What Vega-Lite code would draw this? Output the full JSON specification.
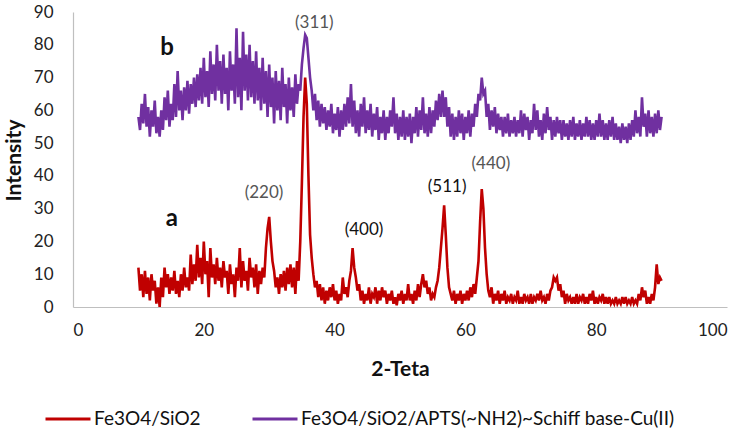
{
  "$schema": "https://vega.github.io/schema/vega-lite/v6.json",
  "width": 654,
  "height": 295,
  "autosize": {"type": "none"},
  "padding": {"left": 73, "top": 12, "right": 23, "bottom": 126},
  "background": "white",
  "config": {
    "view": {"stroke": null},
    "font": "Lato",
    "axis": {"grid": false, "ticks": false, "labelOverlap": false, "domainColor": "#bfbfbf", "domainWidth": 1.2, "labelFont": "Lato", "labelFontSize": 17, "labelColor": "#222222", "titleFont": "Lato", "titleFontSize": 21, "titleFontWeight": "bold", "titleColor": "#111111"}
  },
  "datasets": {
    "xrd": [
      {"x":10,"a":12,"b":58},{"x":10.25,"a":5,"b":54},{"x":10.5,"a":10,"b":62},{"x":10.75,"a":3,"b":56},
      {"x":11,"a":11,"b":65},{"x":11.25,"a":4,"b":55},{"x":11.5,"a":9,"b":61},{"x":11.75,"a":2,"b":52},
      {"x":12,"a":10,"b":60},{"x":12.25,"a":5,"b":55},{"x":12.5,"a":8,"b":63},{"x":12.75,"a":1,"b":53},
      {"x":13,"a":6,"b":58},{"x":13.25,"a":0,"b":52},{"x":13.5,"a":9,"b":60},{"x":13.75,"a":3,"b":54},
      {"x":14,"a":12,"b":64},{"x":14.25,"a":6,"b":57},{"x":14.5,"a":10,"b":66},{"x":14.75,"a":4,"b":55},
      {"x":15,"a":9,"b":62},{"x":15.25,"a":5,"b":57},{"x":15.5,"a":11,"b":68},{"x":15.75,"a":4,"b":58},
      {"x":16,"a":8,"b":72},{"x":16.25,"a":3,"b":60},{"x":16.5,"a":10,"b":66},{"x":16.75,"a":5,"b":57},
      {"x":17,"a":12,"b":67},{"x":17.25,"a":6,"b":60},{"x":17.5,"a":9,"b":69},{"x":17.75,"a":5,"b":59},
      {"x":18,"a":16,"b":68},{"x":18.25,"a":7,"b":62},{"x":18.5,"a":13,"b":70},{"x":18.75,"a":8,"b":61},
      {"x":19,"a":19,"b":71},{"x":19.25,"a":9,"b":63},{"x":19.5,"a":15,"b":73},{"x":19.75,"a":7,"b":62},
      {"x":20,"a":20,"b":76},{"x":20.25,"a":10,"b":64},{"x":20.5,"a":14,"b":72},{"x":20.75,"a":3,"b":61},
      {"x":21,"a":18,"b":78},{"x":21.25,"a":9,"b":65},{"x":21.5,"a":13,"b":74},{"x":21.75,"a":7,"b":63},
      {"x":22,"a":15,"b":80},{"x":22.25,"a":8,"b":66},{"x":22.5,"a":12,"b":75},{"x":22.75,"a":6,"b":62},
      {"x":23,"a":14,"b":77},{"x":23.25,"a":9,"b":65},{"x":23.5,"a":11,"b":73},{"x":23.75,"a":4,"b":60},
      {"x":24,"a":13,"b":78},{"x":24.25,"a":7,"b":66},{"x":24.5,"a":10,"b":74},{"x":24.75,"a":3,"b":62},
      {"x":25,"a":12,"b":85},{"x":25.25,"a":8,"b":64},{"x":25.5,"a":18,"b":76},{"x":25.75,"a":6,"b":60},
      {"x":26,"a":14,"b":84},{"x":26.25,"a":8,"b":66},{"x":26.5,"a":11,"b":77},{"x":26.75,"a":5,"b":63},
      {"x":27,"a":15,"b":80},{"x":27.25,"a":9,"b":64},{"x":27.5,"a":12,"b":75},{"x":27.75,"a":6,"b":62},
      {"x":28,"a":13,"b":78},{"x":28.25,"a":4,"b":63},{"x":28.5,"a":11,"b":73},{"x":28.75,"a":7,"b":60},
      {"x":29,"a":12,"b":76},{"x":29.25,"a":9,"b":62},{"x":29.5,"a":18,"b":72},{"x":29.75,"a":24,"b":58},
      {"x":30,"a":27.5,"b":74},{"x":30.25,"a":20,"b":61},{"x":30.5,"a":14,"b":70},{"x":30.75,"a":11,"b":56},
      {"x":31,"a":6,"b":72},{"x":31.25,"a":9,"b":60},{"x":31.5,"a":4,"b":69},{"x":31.75,"a":10,"b":57},
      {"x":32,"a":6,"b":73},{"x":32.25,"a":11,"b":61},{"x":32.5,"a":5,"b":68},{"x":32.75,"a":12,"b":56},
      {"x":33,"a":7,"b":70},{"x":33.25,"a":13,"b":60},{"x":33.5,"a":6,"b":67},{"x":33.75,"a":12,"b":58},
      {"x":34,"a":4,"b":71},{"x":34.25,"a":14,"b":62},{"x":34.5,"a":8,"b":68},{"x":34.75,"a":20,"b":66},
      {"x":35,"a":38,"b":74},{"x":35.25,"a":58,"b":79},{"x":35.5,"a":70,"b":83},{"x":35.75,"a":62,"b":82},
      {"x":36,"a":40,"b":76},{"x":36.25,"a":22,"b":70},{"x":36.5,"a":15,"b":66},{"x":36.75,"a":10,"b":60},
      {"x":37,"a":6,"b":65},{"x":37.25,"a":8,"b":57},{"x":37.5,"a":3,"b":63},{"x":37.75,"a":7,"b":55},
      {"x":38,"a":2,"b":62},{"x":38.25,"a":6,"b":56},{"x":38.5,"a":1,"b":61},{"x":38.75,"a":5,"b":54},
      {"x":39,"a":2,"b":60},{"x":39.25,"a":6,"b":55},{"x":39.5,"a":3,"b":62},{"x":39.75,"a":7,"b":53},
      {"x":40,"a":2,"b":59},{"x":40.25,"a":5,"b":54},{"x":40.5,"a":1,"b":61},{"x":40.75,"a":4,"b":52},
      {"x":41,"a":2,"b":60},{"x":41.25,"a":9,"b":54},{"x":41.5,"a":4,"b":62},{"x":41.75,"a":6,"b":55},
      {"x":42,"a":3,"b":64},{"x":42.25,"a":8,"b":56},{"x":42.5,"a":11,"b":68},{"x":42.75,"a":18,"b":55},
      {"x":43,"a":12,"b":63},{"x":43.25,"a":9,"b":53},{"x":43.5,"a":5,"b":60},{"x":43.75,"a":7,"b":52},
      {"x":44,"a":2,"b":62},{"x":44.25,"a":5,"b":55},{"x":44.5,"a":1,"b":64},{"x":44.75,"a":4,"b":53},
      {"x":45,"a":2,"b":60},{"x":45.25,"a":6,"b":54},{"x":45.5,"a":1,"b":62},{"x":45.75,"a":4,"b":52},
      {"x":46,"a":3,"b":59},{"x":46.25,"a":6,"b":54},{"x":46.5,"a":1,"b":61},{"x":46.75,"a":5,"b":51},
      {"x":47,"a":2,"b":58},{"x":47.25,"a":6,"b":53},{"x":47.5,"a":3,"b":60},{"x":47.75,"a":5,"b":51},
      {"x":48,"a":1,"b":58},{"x":48.25,"a":4,"b":53},{"x":48.5,"a":2,"b":60},{"x":48.75,"a":5,"b":55},
      {"x":49,"a":1,"b":64},{"x":49.25,"a":3,"b":53},{"x":49.5,"a":0.5,"b":59},{"x":49.75,"a":4,"b":51},
      {"x":50,"a":2,"b":58},{"x":50.25,"a":5,"b":52},{"x":50.5,"a":1,"b":60},{"x":50.75,"a":4,"b":51},
      {"x":51,"a":2,"b":58},{"x":51.25,"a":7,"b":52},{"x":51.5,"a":2,"b":59},{"x":51.75,"a":4,"b":50},
      {"x":52,"a":1,"b":58},{"x":52.25,"a":5,"b":53},{"x":52.5,"a":2,"b":61},{"x":52.75,"a":7,"b":52},
      {"x":53,"a":3,"b":60},{"x":53.25,"a":7,"b":54},{"x":53.5,"a":10,"b":64},{"x":53.75,"a":6,"b":53},
      {"x":54,"a":8,"b":59},{"x":54.25,"a":4,"b":52},{"x":54.5,"a":6,"b":61},{"x":54.75,"a":2,"b":53},
      {"x":55,"a":4,"b":60},{"x":55.25,"a":3,"b":55},{"x":55.5,"a":6,"b":63},{"x":55.75,"a":8,"b":57},
      {"x":56,"a":12,"b":65},{"x":56.25,"a":18,"b":58},{"x":56.5,"a":24,"b":66},{"x":56.75,"a":31,"b":58},
      {"x":57,"a":22,"b":64},{"x":57.25,"a":12,"b":55},{"x":57.5,"a":6,"b":61},{"x":57.75,"a":4,"b":52},
      {"x":58,"a":2,"b":59},{"x":58.25,"a":5,"b":51},{"x":58.5,"a":1,"b":58},{"x":58.75,"a":4,"b":52},
      {"x":59,"a":2,"b":60},{"x":59.25,"a":5,"b":53},{"x":59.5,"a":1,"b":59},{"x":59.75,"a":4,"b":51},
      {"x":60,"a":2,"b":58},{"x":60.25,"a":5,"b":53},{"x":60.5,"a":2,"b":60},{"x":60.75,"a":6,"b":52},
      {"x":61,"a":3,"b":59},{"x":61.25,"a":7,"b":55},{"x":61.5,"a":4,"b":62},{"x":61.75,"a":9,"b":58},
      {"x":62,"a":14,"b":65},{"x":62.25,"a":26,"b":63},{"x":62.5,"a":36,"b":70},{"x":62.75,"a":30,"b":65},
      {"x":63,"a":18,"b":66},{"x":63.25,"a":10,"b":58},{"x":63.5,"a":5,"b":62},{"x":63.75,"a":3,"b":54},
      {"x":64,"a":6,"b":60},{"x":64.25,"a":1,"b":55},{"x":64.5,"a":4,"b":61},{"x":64.75,"a":2,"b":53},
      {"x":65,"a":5,"b":59},{"x":65.25,"a":1,"b":54},{"x":65.5,"a":4,"b":58},{"x":65.75,"a":2,"b":52},
      {"x":66,"a":5,"b":58},{"x":66.25,"a":1,"b":53},{"x":66.5,"a":3,"b":59},{"x":66.75,"a":2,"b":52},
      {"x":67,"a":4,"b":57},{"x":67.25,"a":1,"b":53},{"x":67.5,"a":3,"b":58},{"x":67.75,"a":2,"b":52},
      {"x":68,"a":5,"b":57},{"x":68.25,"a":1,"b":53},{"x":68.5,"a":3,"b":60},{"x":68.75,"a":1,"b":52},
      {"x":69,"a":4,"b":59},{"x":69.25,"a":2,"b":54},{"x":69.5,"a":3,"b":58},{"x":69.75,"a":1,"b":51},
      {"x":70,"a":4,"b":57},{"x":70.25,"a":1,"b":53},{"x":70.5,"a":3,"b":62},{"x":70.75,"a":2,"b":54},
      {"x":71,"a":4,"b":60},{"x":71.25,"a":2,"b":52},{"x":71.5,"a":5,"b":57},{"x":71.75,"a":2,"b":51},
      {"x":72,"a":3,"b":59},{"x":72.25,"a":1,"b":53},{"x":72.5,"a":4,"b":61},{"x":72.75,"a":2,"b":54},
      {"x":73,"a":5,"b":58},{"x":73.25,"a":6,"b":51},{"x":73.5,"a":9,"b":57},{"x":73.75,"a":8,"b":52},
      {"x":74,"a":9,"b":58},{"x":74.25,"a":5,"b":53},{"x":74.5,"a":7,"b":57},{"x":74.75,"a":3,"b":51},
      {"x":75,"a":5,"b":57},{"x":75.25,"a":1,"b":52},{"x":75.5,"a":4,"b":56},{"x":75.75,"a":2,"b":51},
      {"x":76,"a":3,"b":57},{"x":76.25,"a":1,"b":52},{"x":76.5,"a":3,"b":58},{"x":76.75,"a":1,"b":51},
      {"x":77,"a":4,"b":56},{"x":77.25,"a":1,"b":52},{"x":77.5,"a":3,"b":57},{"x":77.75,"a":2,"b":51},
      {"x":78,"a":4,"b":56},{"x":78.25,"a":1,"b":52},{"x":78.5,"a":3,"b":58},{"x":78.75,"a":1,"b":52},
      {"x":79,"a":4,"b":57},{"x":79.25,"a":2,"b":51},{"x":79.5,"a":5,"b":56},{"x":79.75,"a":1,"b":51},
      {"x":80,"a":3,"b":57},{"x":80.25,"a":1,"b":52},{"x":80.5,"a":3,"b":59},{"x":80.75,"a":2,"b":52},
      {"x":81,"a":4,"b":57},{"x":81.25,"a":1,"b":51},{"x":81.5,"a":3,"b":56},{"x":81.75,"a":1,"b":51},
      {"x":82,"a":3,"b":57},{"x":82.25,"a":1,"b":52},{"x":82.5,"a":2,"b":58},{"x":82.75,"a":1,"b":51},
      {"x":83,"a":3,"b":56},{"x":83.25,"a":1,"b":51},{"x":83.5,"a":2,"b":55},{"x":83.75,"a":1,"b":50},
      {"x":84,"a":3,"b":56},{"x":84.25,"a":1,"b":51},{"x":84.5,"a":3,"b":55},{"x":84.75,"a":1,"b":50},
      {"x":85,"a":2,"b":56},{"x":85.25,"a":1,"b":51},{"x":85.5,"a":3,"b":57},{"x":85.75,"a":1,"b":52},
      {"x":86,"a":2,"b":60},{"x":86.25,"a":1,"b":53},{"x":86.5,"a":4,"b":58},{"x":86.75,"a":2,"b":52},
      {"x":87,"a":6,"b":64},{"x":87.25,"a":3,"b":55},{"x":87.5,"a":5,"b":59},{"x":87.75,"a":1,"b":52},
      {"x":88,"a":3,"b":60},{"x":88.25,"a":1,"b":53},{"x":88.5,"a":4,"b":58},{"x":88.75,"a":2,"b":52},
      {"x":89,"a":6,"b":59},{"x":89.25,"a":13,"b":53},{"x":89.5,"a":7,"b":60},{"x":89.75,"a":9,"b":54},
      {"x":90,"a":8,"b":58}
    ],
    "notes": [
      {"x":29.2,"Intensity":34.7,"label":"(220)"},
      {"x":36.9,"Intensity":86.5,"label":"(311)"},
      {"x":44.5,"Intensity":23.4,"label":"(400)"},
      {"x":57.2,"Intensity":36.5,"label":"(511)"},
      {"x":63.9,"Intensity":43.5,"label":"(440)"}
    ],
    "tags": [
      {"x":15.1,"Intensity":27,"label":"a"},
      {"x":14.4,"Intensity":79,"label":"b"}
    ]
  },
  "encoding": {
    "x": {"field": "x", "type": "quantitative", "scale": {"domain": [0, 100], "nice": false}, "axis": {"values": [0, 20, 40, 60, 80, 100], "labelOverlap": false, "labelPadding": 15, "title": "2-Teta", "titleBaseline": "middle", "titleY": 62, "titleX": 327}},
    "y": {"field": "Intensity", "type": "quantitative", "scale": {"domain": [0, 90], "nice": false}, "axis": {"values": [0, 10, 20, 30, 40, 50, 60, 70, 80, 90], "labelOverlap": false, "labelFlush": false, "labelPadding": 20, "title": "Intensity", "titleBaseline": "middle", "titleX": -59, "titleY": 148}}
  },
  "layer": [
    {
      "data": {"name": "xrd"},
      "transform": [{"fold": ["b", "a"], "as": ["series", "Intensity"]}],
      "mark": {"type": "line", "strokeWidth": 2.6, "interpolate": "linear"},
      "encoding": {
        "color": {
          "field": "series", "type": "nominal",
          "scale": {"domain": ["a", "b"], "range": ["#C00000", "#7030A0"]},
          "legend": {
            "title": null, "orient": "none", "direction": "horizontal",
            "legendX": -29, "legendY": 383,
            "labelExpr": "datum.label == 'a' ? 'Fe3O4/SiO2' : 'Fe3O4/SiO2/APTS(~NH2)~Schiff base-Cu(II)'",
            "labelFont": "Lato", "labelFontSize": 19, "labelColor": "#111111", "labelLimit": 600,
            "symbolType": "stroke", "symbolSize": 2025, "symbolStrokeWidth": 3,
            "labelOffset": 2, "columnPadding": 45
          }
        }
      }
    },
    {
      "data": {"name": "notes"},
      "transform": [{"filter": {"field": "label", "oneOf": ["(220)", "(311)", "(440)"]}}],
      "mark": {"type": "text", "font": "Lato", "fontSize": 17, "color": "#555555"},
      "encoding": {"text": {"field": "label"}}
    },
    {
      "data": {"name": "notes"},
      "transform": [{"filter": {"field": "label", "oneOf": ["(400)", "(511)"]}}],
      "mark": {"type": "text", "font": "Lato", "fontSize": 17, "color": "#111111"},
      "encoding": {"text": {"field": "label"}}
    },
    {
      "data": {"name": "tags"},
      "mark": {"type": "text", "font": "Lato", "fontSize": 24, "fontWeight": "bold", "color": "#111111"},
      "encoding": {"text": {"field": "label"}}
    }
  ]
}
